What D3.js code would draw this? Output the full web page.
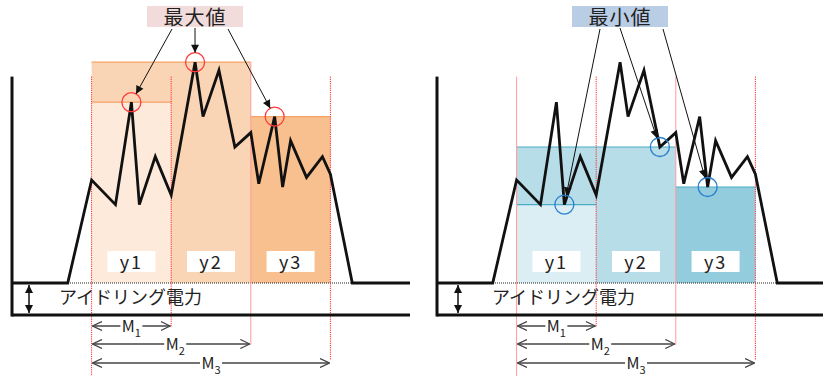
<!DOCTYPE html>
<html><head><meta charset="utf-8">
<script src="https://cdn.jsdelivr.net/npm/d3@7"></script>
<style>
body{margin:0;background:#fff}
svg{display:block}
text{font-family:"Noto Sans CJK JP","Noto Sans",sans-serif;fill:#222}
</style>
</head><body>
<svg id="c" width="823" height="376"></svg>
<script>
// Power profile of one load cycle (time in arbitrary units, power in arbitrary units)
const timePoints  = [0, 14, 20, 26, 30, 32, 36, 40, 46, 48, 52, 56, 60, 62, 66, 68, 70, 74, 78, 80, 85.5, 100];
const powerValues = [10, 10, 42.2, 34.5, 66.5, 34.5, 49.5, 37.5, 79, 62, 76.5, 52.5, 57, 41, 62, 40, 54.5, 43, 49.5, 44, 10, 10];

const idlePower = 10;
const axisTopPower = 74.5;

// Interval boundaries and labels
const boundaries = [20, 40, 60, 80];
const segmentLabels = ["y1", "y2", "y3"];
const spanNames = ["M", "M", "M"];
const spanSubs = ["1", "2", "3"];
const spanEnds = [40, 60, 80];

// Per-interval maxima and minima
const maxTimes = [30, 46, 66];
const maxValues = [66.5, 79, 62];
const minTimes = [32, 56, 68];
const minValues = [34.5, 52.5, 40];

const calloutMax = "最大値";
const calloutMin = "最小値";
const idleLabel = "アイドリング電力";

const svg = d3.select("#c");
const defs = svg.append("defs");

defs.append("marker").attr("id", "tri").attr("viewBox", "0 0 10 10")
  .attr("refX", 10).attr("refY", 5).attr("markerUnits", "userSpaceOnUse")
  .attr("markerWidth", 11).attr("markerHeight", 8).attr("orient", "auto-start-reverse")
  .append("path").attr("d", "M0,0L10,5L0,10z").attr("fill", "#111");

defs.append("marker").attr("id", "chev").attr("viewBox", "0 0 10 10")
  .attr("refX", 9.5).attr("refY", 5).attr("markerUnits", "userSpaceOnUse")
  .attr("markerWidth", 10).attr("markerHeight", 10).attr("orient", "auto-start-reverse")
  .append("path").attr("d", "M0,0.5L9.5,5L0,9.5").attr("fill", "none")
  .attr("stroke", "#444").attr("stroke-width", 1.3);

const panels = [
  {axisX: 12, values: maxValues, times: maxTimes, callout: calloutMax,
   fills: ["#fdeada", "#fad5b5", "#f8c08f"], edge: "#f4a266", ring: "#ff3b3b",
   boxFill: "#f2dcdb", boxCx: 195, starts: [[172, 29], [195, 28], [228, 29]],
   idleDx: 47, arrowDx: 17, redStyles: ["dot", "dot", "solid", "dot"]},
  {axisX: 437, values: minValues, times: minTimes, callout: calloutMin,
   fills: ["#dbeef4", "#b7dde8", "#93cddd"], edge: "#4bacc6", ring: "#2a7fd0",
   boxFill: "#b9cde5", boxCx: 620, starts: [[600, 29], [620, 28], [663, 29]],
   idleDx: 55, arrowDx: 21, redStyles: ["solid", "dot", "solid", "dot"]}
];

const y = d3.scaleLinear().domain([0, 80]).range([315, 59]);
const redEnds = [376, 327, 345, 360];
const spanY = [326, 344, 363];

panels.forEach(p => {
  const x = d3.scaleLinear().domain([0, 100]).range([p.axisX, p.axisX + 398]);
  const g = svg.append("g");
  const yIdle = y(idlePower);

  // Interval rectangles: y2 spans the first two intervals, y1 and y3 their own
  const rects = [
    {t0: boundaries[0], t1: boundaries[2], v: p.values[1], fill: p.fills[1]},
    {t0: boundaries[0], t1: boundaries[1], v: p.values[0], fill: p.fills[0]},
    {t0: boundaries[2], t1: boundaries[3], v: p.values[2], fill: p.fills[2]}
  ];
  g.selectAll("rect.iv").data(rects).join("rect").attr("class", "iv")
    .attr("x", d => x(d.t0)).attr("width", d => x(d.t1) - x(d.t0))
    .attr("y", d => y(d.v)).attr("height", d => yIdle - y(d.v))
    .attr("fill", d => d.fill);
  g.selectAll("line.top").data(rects).join("line").attr("class", "top")
    .attr("x1", d => x(d.t0)).attr("x2", d => x(d.t1))
    .attr("y1", d => y(d.v)).attr("y2", d => y(d.v))
    .attr("stroke", p.edge).attr("stroke-width", 1.2);

  // Idle power level
  g.append("line").attr("x1", p.axisX).attr("x2", p.axisX + 398)
    .attr("y1", yIdle).attr("y2", yIdle)
    .attr("stroke", "#222").attr("stroke-width", 1).attr("stroke-dasharray", "1,1");

  // Interval boundary markers
  g.selectAll("line.bd").data(boundaries).join("line").attr("class", "bd")
    .attr("x1", d => x(d)).attr("x2", d => x(d))
    .attr("y1", (d, i) => i === 2 && p.axisX === 12 ? y(p.values[1]) : y(axisTopPower))
    .attr("y2", (d, i) => redEnds[i])
    .attr("stroke", (d, i) => p.redStyles[i] === "dot" ? "#ff2a2a" : "#ff9a9a")
    .attr("stroke-width", 1)
    .attr("stroke-dasharray", (d, i) => p.redStyles[i] === "dot" ? "1.2,1" : null);

  // Interval labels
  const lab = g.selectAll("g.lab").data(segmentLabels).join("g").attr("class", "lab")
    .attr("transform", (d, i) => `translate(${(x(boundaries[i]) + x(boundaries[i + 1])) / 2},261.5)`);
  lab.append("rect").attr("x", -24).attr("y", -10.5).attr("width", 48).attr("height", 21).attr("fill", "#fff");
  lab.append("text").attr("text-anchor", "middle").attr("y", 7)
    .attr("font-size", 18).attr("letter-spacing", 2).text(d => d);

  // Power curve
  const pts = timePoints.map((t, i) => ({t, v: powerValues[i]}));
  g.append("path").datum(pts)
    .attr("d", d3.line().x(d => x(d.t)).y(d => y(d.v)))
    .attr("fill", "none").attr("stroke", "#111").attr("stroke-width", 2.8)
    .attr("stroke-linejoin", "miter");

  // Axes
  g.append("line").attr("x1", p.axisX).attr("x2", p.axisX)
    .attr("y1", y(axisTopPower)).attr("y2", y(0) + 1.5)
    .attr("stroke", "#111").attr("stroke-width", 3);
  g.append("line").attr("x1", p.axisX).attr("x2", p.axisX + 398)
    .attr("y1", y(0)).attr("y2", y(0))
    .attr("stroke", "#111").attr("stroke-width", 3);

  // Idle power annotation
  g.append("line").attr("x1", p.axisX + p.arrowDx).attr("x2", p.axisX + p.arrowDx)
    .attr("y1", yIdle + 2).attr("y2", y(0) - 2)
    .attr("stroke", "#111").attr("stroke-width", 1.5)
    .attr("marker-start", "url(#tri)").attr("marker-end", "url(#tri)");
  g.append("text").attr("x", p.axisX + p.idleDx).attr("y", 304)
    .attr("font-size", 18).text(idleLabel);

  // Span arrows M1..M3
  spanEnds.forEach((te, i) => {
    const x0 = x(boundaries[0]), x1 = x(te), yy = spanY[i];
    g.append("line").attr("x1", x0 + 1).attr("x2", x1 - 1).attr("y1", yy).attr("y2", yy)
      .attr("stroke", "#444").attr("stroke-width", 1.3)
      .attr("marker-start", "url(#chev)").attr("marker-end", "url(#chev)");
    const cx = (x0 + x1) / 2 + (i === 1 ? 4 : 0);
    g.append("rect").attr("x", cx - 11).attr("y", yy - 8).attr("width", 22).attr("height", 16).attr("fill", "#fff");
    const t = g.append("text").attr("x", cx).attr("y", yy + 6).attr("text-anchor", "middle").attr("font-size", 16);
    t.append("tspan").text(spanNames[i]);
    t.append("tspan").attr("font-size", 11).attr("dy", 5).text(spanSubs[i]);
  });

  // Extremum rings
  const rings = p.times.map((t, i) => ({cx: x(t), cy: y(p.values[i])}));
  g.selectAll("circle.ring").data(rings).join("circle").attr("class", "ring")
    .attr("cx", d => d.cx).attr("cy", d => d.cy).attr("r", 9.5)
    .attr("fill", "none").attr("stroke", p.ring).attr("stroke-width", 1.3);

  // Callout box and pointers
  g.append("rect").attr("x", p.boxCx - 48).attr("y", 6).attr("width", 96).attr("height", 21).attr("fill", p.boxFill);
  g.append("text").attr("x", p.boxCx).attr("y", 24.5).attr("text-anchor", "middle")
    .attr("font-size", 20).attr("letter-spacing", 1).text(p.callout);
  rings.forEach((r, i) => {
    const [sx, sy] = p.starts[i];
    const dx = r.cx - sx, dy = r.cy - sy, len = Math.hypot(dx, dy);
    g.append("line").attr("x1", sx).attr("y1", sy)
      .attr("x2", r.cx - dx / len * 9.5).attr("y2", r.cy - dy / len * 9.5)
      .attr("stroke", "#111").attr("stroke-width", 1)
      .attr("marker-end", "url(#tri)");
  });
});
</script>
</body></html>
